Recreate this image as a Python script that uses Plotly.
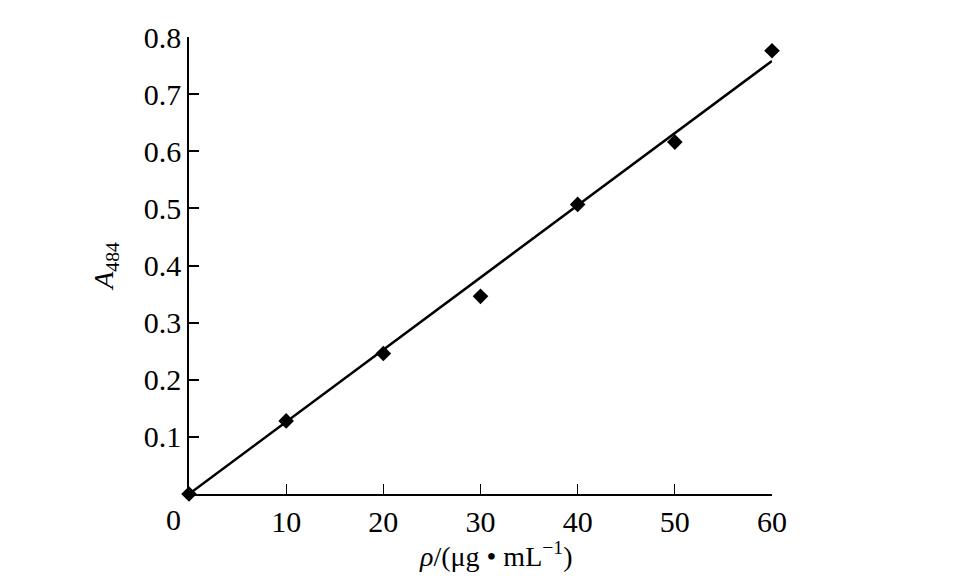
import plotly.graph_objects as go

# Data
conc = [0, 10, 20, 30, 40, 50, 60]
absorb = [0.0, 0.128, 0.246, 0.346, 0.507, 0.616, 0.776]

# fitted calibration line (end points)
fit_x = [0, 60]
fit_y = [0.0, 0.758]

x_ticks = [10, 20, 30, 40, 50, 60]
y_ticks = [0.1, 0.2, 0.3, 0.4, 0.5, 0.6, 0.7, 0.8]

font = "Liberation Serif, Times New Roman, serif"

fig = go.Figure()

fig.add_trace(go.Scatter(
    x=fit_x, y=fit_y, mode="lines",
    line=dict(color="black", width=2.5),
    showlegend=False, cliponaxis=False
))

fig.add_trace(go.Scatter(
    x=conc, y=absorb, mode="markers",
    marker=dict(symbol="diamond", size=12, color="black"),
    showlegend=False, cliponaxis=False
))

# page body has an 8px margin, so the figure is shrunk by that amount
fig.update_layout(
    width=941, height=569,
    margin=dict(l=181, r=177, t=26, b=83),
    paper_bgcolor="white", plot_bgcolor="white",
    font=dict(family=font, size=30, color="black"),
    xaxis=dict(
        range=[0, 60], tickvals=x_ticks, ticktext=[str(v) for v in x_ticks],
        ticks="inside", ticklen=10, tickwidth=1.2, tickcolor="black",
        showline=True, linecolor="black", linewidth=1.5,
        showgrid=False, zeroline=False,
        tickfont=dict(size=30)
    ),
    yaxis=dict(
        range=[0, 0.8], tickvals=y_ticks, ticktext=[f"{v:.1f}" for v in y_ticks],
        ticks="inside", ticklen=10, tickwidth=2, tickcolor="black",
        showline=True, linecolor="black", linewidth=1.5,
        showgrid=False, zeroline=False,
        tickfont=dict(size=30),
        title=dict(text="<i>A</i><sub>484</sub>", standoff=22, font=dict(size=28))
    ),
    annotations=[
        dict(text="0", x=0, y=0, xref="x", yref="y", xanchor="center", yanchor="top",
             xshift=-16, yshift=-7, showarrow=False, font=dict(size=30)),
        dict(text="<i>ρ</i>/(μg • mL<sup>−1</sup>)",
             x=(495 - 189) / 583, y=-(555 - 494) / 460,
             xref="paper", yref="paper", xanchor="center", yanchor="middle",
             showarrow=False, font=dict(size=28))
    ]
)

fig.write_html("out.html")
